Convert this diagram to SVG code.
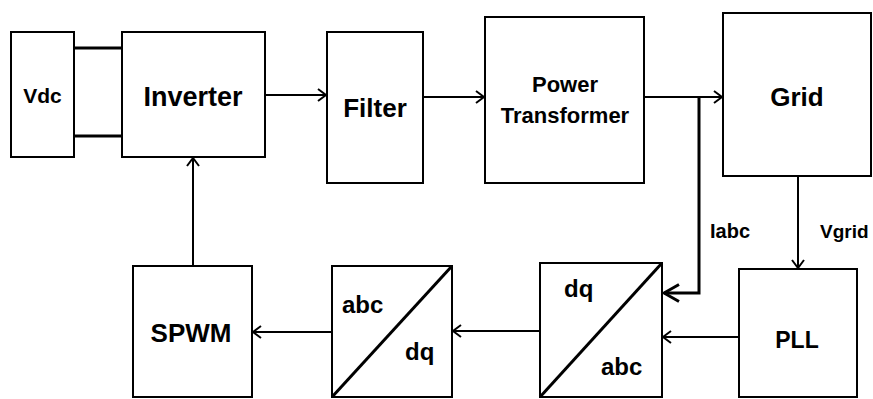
<svg xmlns="http://www.w3.org/2000/svg" width="873" height="399" viewBox="0 0 873 399">
<style>
.box{fill:#fff;stroke:#000;stroke-width:2}
.t{font-family:"Liberation Sans",Arial,sans-serif;font-weight:bold;fill:#000}
.c{text-anchor:middle}
.ln{fill:none;stroke:#000;stroke-width:2}
.thick{fill:none;stroke:#000;stroke-width:3}
.diag{stroke:#000;stroke-width:3}
</style>
<defs>
<marker id="arr" viewBox="0 0 10 14" refX="9" refY="7" markerWidth="10" markerHeight="14" markerUnits="userSpaceOnUse" orient="auto">
<path d="M1,1 L9,7 L1,13" fill="none" stroke="#000" stroke-width="2"/>
</marker>
<marker id="arrBig" viewBox="0 0 18 20" refX="16" refY="10" markerWidth="18" markerHeight="20" markerUnits="userSpaceOnUse" orient="auto">
<path d="M1,1.5 L16,10 L1,18.5" fill="none" stroke="#000" stroke-width="3"/>
</marker>
</defs>
<rect width="873" height="399" fill="#fff"/>
<g id="connectors">
<path class="thick" d="M74,48 H122 M74,136 H122"/>
<path class="ln" d="M265,95 H326" marker-end="url(#arr)"/>
<path class="ln" d="M423,97 H484" marker-end="url(#arr)"/>
<path class="ln" d="M644,97 H722" marker-end="url(#arr)"/>
<path class="thick" d="M699,97 V293 H664" marker-end="url(#arrBig)"/>
<path class="ln" d="M798,176 V268" marker-end="url(#arr)"/>
<path class="ln" d="M739,337 H663" marker-end="url(#arr)"/>
<path class="ln" d="M540,331 H453" marker-end="url(#arr)"/>
<path class="ln" d="M332,332 H253" marker-end="url(#arr)"/>
<path class="ln" d="M193,266 V158" marker-end="url(#arr)"/>
<text class="t" x="710" y="238" font-size="20">Iabc</text>
<text class="t" x="820" y="238" font-size="19">Vgrid</text>
</g>
<g id="vdc">
<rect class="box" x="11" y="32" width="63" height="125"/>
<text class="t c" x="42.5" y="103" font-size="21">Vdc</text>
</g>
<g id="inverter">
<rect class="box" x="122" y="32" width="143" height="125"/>
<text class="t c" x="193" y="106" font-size="27">Inverter</text>
</g>
<g id="filter">
<rect class="box" x="327" y="32" width="96" height="151"/>
<text class="t c" x="375" y="117" font-size="26">Filter</text>
</g>
<g id="transformer">
<rect class="box" x="485" y="17" width="159" height="166"/>
<text class="t c" x="565" y="92" font-size="22">Power</text>
<text class="t c" x="565" y="123" font-size="22">Transformer</text>
</g>
<g id="grid">
<rect class="box" x="723" y="13" width="148" height="163"/>
<text class="t c" x="797" y="106" font-size="26">Grid</text>
</g>
<g id="pll">
<rect class="box" x="739" y="269" width="118" height="128"/>
<text class="t c" x="797" y="348" font-size="23">PLL</text>
</g>
<g id="dq_abc">
<rect class="box" x="540" y="263" width="122" height="134"/>
<line class="diag" x1="662" y1="263" x2="540" y2="397"/>
<text class="t" x="564" y="297" font-size="24">dq</text>
<text class="t" x="601" y="375" font-size="24">abc</text>
</g>
<g id="abc_dq">
<rect class="box" x="332" y="266" width="120" height="131"/>
<line class="diag" x1="452" y1="266" x2="332" y2="397"/>
<text class="t" x="342" y="313" font-size="24">abc</text>
<text class="t" x="405" y="360" font-size="24">dq</text>
</g>
<g id="spwm">
<rect class="box" x="133" y="266" width="119" height="131"/>
<text class="t c" x="191" y="342" font-size="26">SPWM</text>
</g>
</svg>
